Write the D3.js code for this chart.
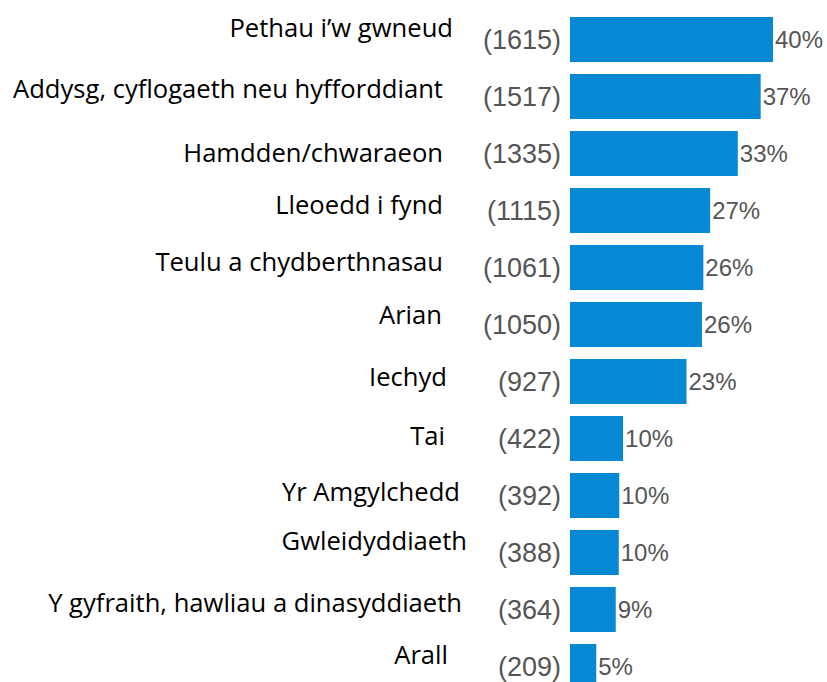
<!DOCTYPE html>
<html>
<head>
<meta charset="utf-8">
<script src="https://cdn.jsdelivr.net/npm/d3@7/dist/d3.min.js"></script>
<style>
  html, body { margin: 0; padding: 0; background: #ffffff; }
  svg { display: block; }
</style>
</head>
<body>
<svg id="chart" width="827" height="682"></svg>
<script>
// Topics raised, with number of mentions and share of respondents
const categories = [
  "Pethau i\u2019w gwneud",
  "Addysg, cyflogaeth neu hyfforddiant",
  "Hamdden/chwaraeon",
  "Lleoedd i fynd",
  "Teulu a chydberthnasau",
  "Arian",
  "Iechyd",
  "Tai",
  "Yr Amgylchedd",
  "Gwleidyddiaeth",
  "Y gyfraith, hawliau a dinasyddiaeth",
  "Arall"
];
const counts = [1615, 1517, 1335, 1115, 1061, 1050, 927, 422, 392, 388, 364, 209];
const percents = [40, 37, 33, 27, 26, 26, 23, 10, 10, 10, 9, 5];

// Small per-label offsets for the category captions (px)
const captionShiftX = [10, 0, 0, 0, 0, -1, 4, 2, 17, 24, 19, 5];
const captionShiftY = [-3, 1, 9, 3, 3, -1, 4, 7, 6, -2, 3, -2];

const svg = d3.select("#chart");

const barLeft = 570;
const barMaxWidth = 203;
const captionRight = 443;
const countRight = 561;

const y = d3.scaleBand()
  .domain(d3.range(categories.length))
  .range([17, 689])
  .paddingInner(0.21)
  .paddingOuter(0);

const x = d3.scaleLinear()
  .domain([0, d3.max(counts)])
  .range([0, barMaxWidth]);

const rows = svg.selectAll("g.row")
  .data(categories.map((c, i) => ({ c, i, n: counts[i], p: percents[i] })))
  .join("g")
  .attr("class", "row")
  .attr("transform", d => `translate(0,${y(d.i)})`);

const bh = y.bandwidth();

rows.append("rect")
  .attr("x", barLeft)
  .attr("y", 0)
  .attr("width", d => x(d.n))
  .attr("height", bh)
  .attr("fill", "#0788d4");

rows.append("text")
  .attr("x", d => captionRight + captionShiftX[d.i])
  .attr("y", d => bh / 2 + captionShiftY[d.i])
  .attr("text-anchor", "end")
  .attr("font-family", "'Open Sans', sans-serif")
  .attr("font-size", 25.6)
  .attr("fill", "#000000")
  .text(d => d.c);

rows.append("text")
  .attr("x", countRight)
  .attr("y", bh / 2)
  .attr("dy", "0.36em")
  .attr("text-anchor", "end")
  .attr("font-family", "'Liberation Sans', Arial, sans-serif")
  .attr("font-size", 27)
  .attr("fill", "#555555")
  .text(d => `(${d.n})`);

rows.append("text")
  .attr("x", d => barLeft + x(d.n) + 2)
  .attr("y", bh / 2)
  .attr("dy", "0.36em")
  .attr("text-anchor", "start")
  .attr("font-family", "'Liberation Sans', Arial, sans-serif")
  .attr("font-size", 24)
  .attr("fill", "#555555")
  .text(d => `${d.p}%`);
</script>
</body>
</html>
